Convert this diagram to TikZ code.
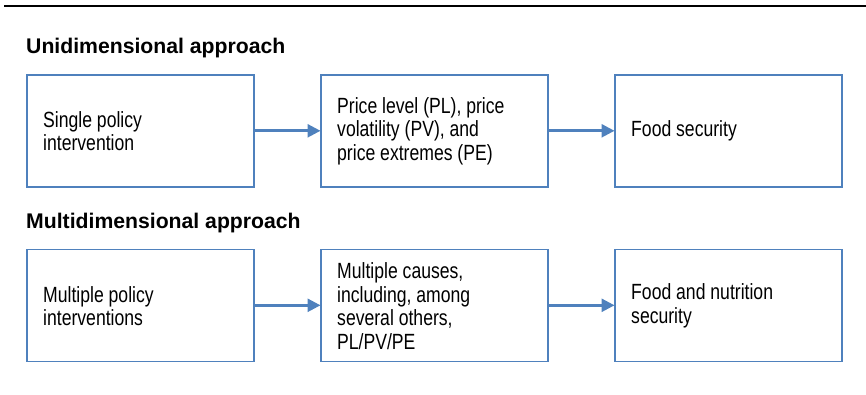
\documentclass[tikz,border=0pt]{standalone}
\usepackage{fontspec}
\setmainfont{Liberation Sans}
\newfontfamily\condfont[FakeStretch=0.80]{Liberation Sans}
\usetikzlibrary{arrows.meta}
\definecolor{boxblue}{HTML}{4F81BD}
\tikzset{
  stepbox/.style={draw=boxblue, line width=1.6pt, minimum width=227pt, minimum height=112pt,
    anchor=north west, inner sep=0pt},
  boxtext/.style={anchor=west, align=left, font=\condfont\fontsize{22}{23.5}\selectfont, inner sep=0pt},
  heading/.style={anchor=base west, inner sep=0pt, font=\bfseries\fontsize{21.2}{24}\selectfont},
  flow/.style={draw=boxblue, line width=2.6pt, -{Triangle[length=13pt,width=13pt]}, shorten >=-0.5pt}
}
\begin{document}
\begin{tikzpicture}[x=1pt,y=-1pt]
\useasboundingbox (0,0) rectangle (866,395);
\draw[line width=2.2pt] (4,6) -- (866,6);
\node[heading] (h1) at (26,54) {Unidimensional approach};
\node[heading] (h2) at (26,228) {Multidimensional approach};
% row 1
\node[stepbox] (a1) at (26,74) {};
\node[stepbox] (b1) at (320,74) {};
\node[stepbox] (c1) at (614,74) {};
\node[boxtext] (ta1) at (43,131) {Single policy\\intervention};
\node[boxtext] (tb1) at (337,131) {Price level (PL), price\\volatility (PV), and\\price extremes (PE)};
\node[boxtext] (tc1) at (631,131) {Food security};
\draw[flow] (a1.east) -- (b1.west);
\draw[flow] (b1.east) -- (c1.west);
% row 2
\node[stepbox] (a2) at (26,248.5) {};
\node[stepbox] (b2) at (320,248.5) {};
\node[stepbox] (c2) at (614,248.5) {};
\node[boxtext] (ta2) at (43,306) {Multiple policy\\interventions};
\node[boxtext] (tb2) at (337,306) {Multiple causes,\\including, among\\several others,\\PL/PV/PE};
\node[boxtext] (tc2) at (631,306) {Food and nutrition\\security};
\draw[flow] (a2.east) -- (b2.west);
\draw[flow] (b2.east) -- (c2.west);
\end{tikzpicture}
\end{document}
